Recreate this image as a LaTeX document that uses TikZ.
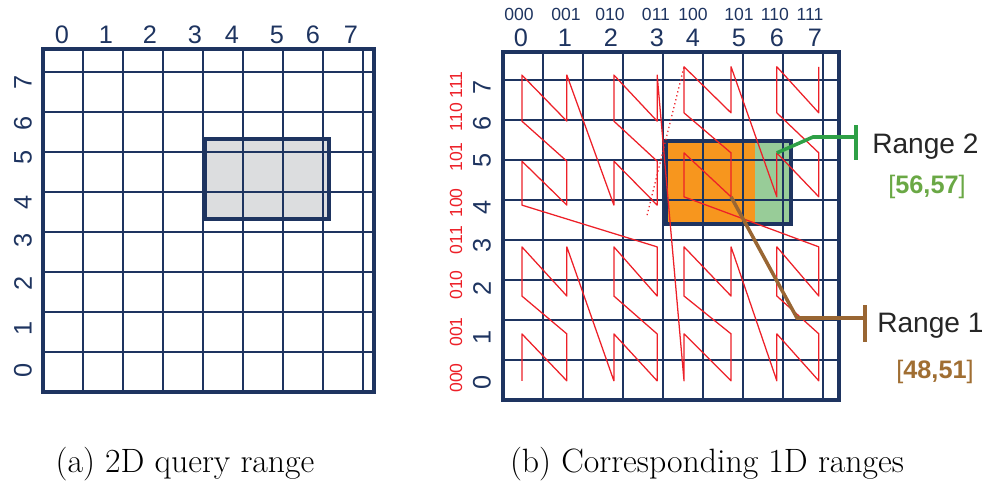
\documentclass[tikz,border=0pt]{standalone}
\usepackage{fontspec}
\newfontfamily\labfont{Liberation Sans}
\usetikzlibrary{positioning}
\definecolor{navy}{RGB}{30,52,96}
\definecolor{zred}{RGB}{237,32,40}
\definecolor{qorange}{RGB}{247,150,30}
\definecolor{qgreen}{RGB}{152,204,152}
\definecolor{qgray}{RGB}{220,221,223}
\definecolor{lgreen}{RGB}{46,160,70}
\definecolor{lbrown}{RGB}{153,102,51}
\definecolor{tgreen}{RGB}{106,168,69}
\definecolor{tbrown}{RGB}{160,110,50}
\tikzset{
  gridline/.style={draw=navy,line width=1.9pt},
  frame/.style={draw=navy,line width=3.2pt},
  qbox/.style={draw=navy,line width=2.9pt},
  axnum/.style={font=\labfont\fontsize{18}{18}\selectfont,text=navy,inner sep=0pt},
  binnum/.style={font=\labfont\fontsize{12.5}{12.5}\selectfont,text=#1,inner sep=0pt},
  binnum/.default=navy,
  zcurve/.style={draw=zred,line width=0.9pt,line join=round},
  leader/.style={draw=#1,line width=2.5pt},
  rangelbl/.style={font=\labfont\fontsize{20}{20}\selectfont,text=black!85,inner sep=0pt},
  rangenum/.style={font=\labfont\fontsize{18}{18}\selectfont,text=#1,inner sep=0pt},
  caption/.style={font=\fontsize{24}{28}\selectfont,inner sep=0pt},
}
\begin{document}
\begin{tikzpicture}[x=0.25mm,y=-0.25mm]
  \useasboundingbox (0,0) rectangle (984,482);
  % (a) query grid
  \begin{scope}[shift={(43,392)},x=10.35mm,y=10.725mm]
    \fill[qgray] (3.9,4.03) rectangle (6.91,5.9);
    \draw[gridline] (0,0) grid (8,8);
    \draw[frame] (0,0) rectangle (8,8);
    \draw[qbox] (3.9,4.03) rectangle (6.91,5.9);
  \end{scope}
  \foreach \n/\x in {0/62,1/106,2/150,3/195,4/232,5/277,6/313,7/351}
    \node[axnum] (ca\n) at (\x,35) {\n};
  \foreach \n/\y in {0/370,1/328,2/283,3/240,4/202,5/157,6/123,7/82}
    \node[axnum,rotate=90] (ra\n) at (23,\y) {\n};
  \node[caption,anchor=base] (capa) at (185,472) {(a) 2D query range};

  % (b) z-order curve
  \begin{scope}[shift={(503,400)},x=10.5mm,y=10.875mm]
    \fill[qorange] (3.9,4.05) rectangle (6,5.95);
    \fill[qgreen] (6,4.05) rectangle (6.86,5.95);
    \draw[gridline] (0,0) grid (8,8);
    \draw[frame] (0,0) rectangle (8,8);
    \draw[qbox] (3.88,4.05) rectangle (6.86,5.95);
    \foreach \d in {0,...,63}{
      \pgfmathtruncatemacro\zx{mod(floor(\d/2),2)+2*mod(floor(\d/8),2)+4*mod(floor(\d/32),2)}
      \pgfmathtruncatemacro\zy{mod(\d,2)+2*mod(floor(\d/4),2)+4*mod(floor(\d/16),2)}
      \pgfmathsetmacro\px{{0.45,1.52,2.64,3.67,4.31,5.43,6.52,7.52}[\zx]}
      \pgfmathsetmacro\py{{0.44,1.52,2.39,3.52,4.48,5.49,6.41,7.47}[\zy]+0.19*(\zx>3)*(\zy>3)}
      \coordinate (z\d) at (\px,\py);
    }
    \coordinate (dot0) at (3.43,4.25);
    \draw[zcurve] (z0) \foreach \d in {1,...,63}{-- (z\d)};
    \draw[zcurve,dotted] (dot0) -- (z53);
  \end{scope}
  \foreach \b/\x [count=\k from 0] in {000/519,001/566,010/610,011/656,100/693,101/739,110/775,111/810}
    \node[binnum] (cb\k) at (\x,14) {\b};
  \foreach \n/\x in {0/521,1/565,2/611,3/657,4/693,5/739,6/777,7/815}
    \node[axnum] (cd\n) at (\x,38) {\n};
  \foreach \n/\y in {0/382,1/337,2/288,3/245,4/207,5/160,6/123,7/87}
    \node[axnum,rotate=90] (rd\n) at (482,\y) {\n};
  \foreach \b/\y [count=\k from 0] in {000/378,001/332,010/285,011/240,100/203,101/157,110/117,111/85}
    \node[binnum=zred,rotate=90] (rb\k) at (456,\y) {\b};

  % ranges
  \coordinate (k2) at (813,137);
  \coordinate (t2) at (856,137);
  \coordinate (k1) at (797,318);
  \coordinate (t1) at (865,318);
  \draw[leader=lgreen] (z57) -- (k2) -- (t2);
  \draw[leader=lgreen] (t2) ++(0,-12) -- ++(0,35);
  \draw[leader=lbrown] (z50) -- (k1) -- (t1);
  \draw[leader=lbrown] (t1) ++(0,-13) -- ++(0,37);
  \node[rangelbl,anchor=base west] (r2) at (872,153) {Range 2};
  \node[rangelbl,anchor=base west] (r1) at (877,332) {Range 1};
  \node[rangenum=tgreen,anchor=base] (n2) at (927,193) {[\textbf{56,57}]};
  \node[rangenum=tbrown,anchor=base] (n1) at (935,378) {[\textbf{48,51}]};
  \node[caption,anchor=base] (capb) at (707,472) {(b) Corresponding 1D ranges};
\end{tikzpicture}
\end{document}
